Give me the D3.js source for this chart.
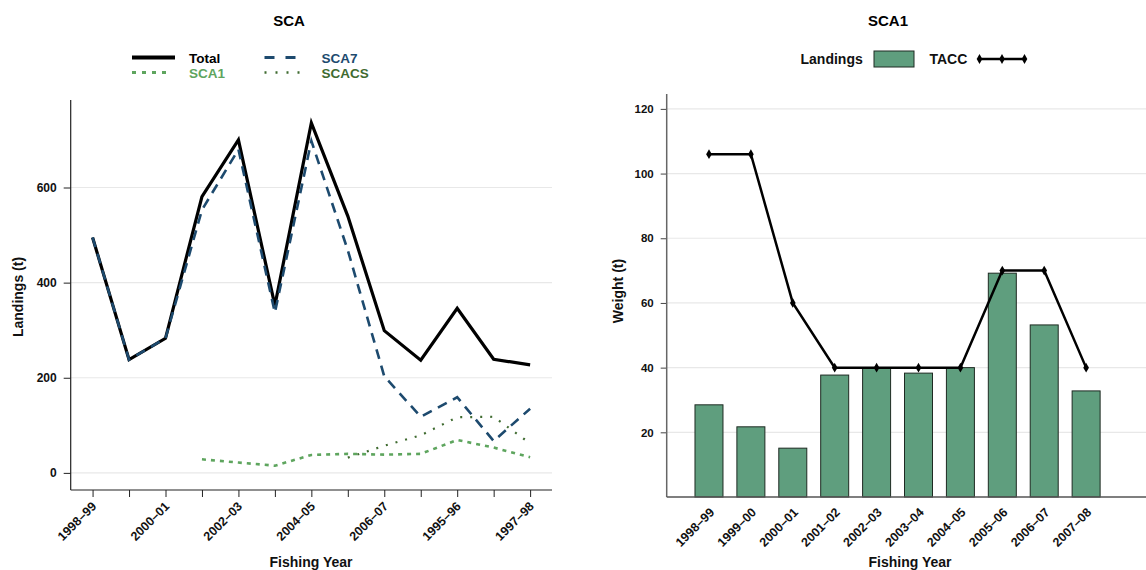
<!DOCTYPE html>
<html><head><meta charset="utf-8">
<script src="https://cdn.jsdelivr.net/npm/d3@7"></script>
<style>
html,body{margin:0;padding:0;background:#fff;}
svg text{font-family:"Liberation Sans",Arial,sans-serif;font-weight:bold;}
</style></head>
<body><svg id="c" width="1146" height="570"></svg>
<script>
// ---- Left panel data (SCA) ----
const yearsL = ["1998–99","1999–00","2000–01","2001–02","2002–03","2003–04","2004–05","2005–06","2006–07","2007–08","1995–96","1996–97","1997–98"];
const totalL = [495, 238, 283, 581, 700, 352, 736, 540, 299, 237, 346, 239, 227];
const sca7L  = [495, 238, 283, 553, 680, 337, 698, 468, 203, 118, 159, 67, 135];
const sca1L  = [null, null, null, 28.5, 21.7, 15.1, 37.7, 40.0, 38.3, 40.0, 69.2, 53.2, 32.8];
const scacsL = [null, null, null, null, null, null, null, 32, 57, 79, 117, 118, 62];
const yTicksL = [0, 200, 400, 600];

// ---- Right panel data (SCA1) ----
const yearsR = ["1998–99","1999–00","2000–01","2001–02","2002–03","2003–04","2004–05","2005–06","2006–07","2007–08"];
const landingsR = [28.5, 21.7, 15.1, 37.7, 40.0, 38.3, 40.0, 69.2, 53.2, 32.8];
const taccR = [106, 106, 60, 40, 40, 40, 40, 70, 70, 40];
const yTicksR = [20, 40, 60, 80, 100, 120];

const svg = d3.select("#c");
const GRID = "#e8e8e8";

// ================= LEFT PANEL =================
{
  const x0 = 70.7, x1 = 552, yTop = 100, yBot = 490;
  const x = d3.scalePoint().domain(yearsL).range([x0, x1]).padding(0.6);
  const y = d3.scaleLinear().domain([-36, 784]).range([yBot, yTop]);
  const g = svg.append("g");

  g.selectAll(".gl").data(yTicksL).join("line")
    .attr("x1", x0).attr("x2", x1).attr("y1", d => y(d)).attr("y2", d => y(d))
    .attr("stroke", GRID).attr("stroke-width", 1.2);

  const ya = d3.axisLeft(y).tickValues(yTicksL).tickSize(7).tickPadding(7);
  const yg = g.append("g").attr("transform", `translate(${x0},0)`).call(ya);
  yg.select(".domain").remove();
  yg.selectAll("line").attr("stroke", "#222");
  yg.selectAll("text").attr("font-size", 12).attr("fill", "#111")
    .style("font-family", "Liberation Sans, Arial").style("font-weight", "bold");
  g.append("line").attr("x1", x0).attr("x2", x0).attr("y1", yTop).attr("y2", yBot).attr("stroke", "#222").attr("stroke-width", 1.2);

  const xa = d3.axisBottom(x).tickSize(7).tickFormat((d, i) => i % 2 === 0 ? d : "");
  const xg = g.append("g").attr("transform", `translate(0,${yBot})`).call(xa);
  xg.select(".domain").remove();
  xg.selectAll("line").attr("stroke", "#222");
  xg.selectAll("text").attr("font-size", 12.5).attr("fill", "#111")
    .style("font-family", "Liberation Sans, Arial").style("font-weight", "bold")
    .attr("text-anchor", "end").attr("dy", "0.35em")
    .attr("transform", "translate(1,14) rotate(-45)").attr("y", 0).attr("x", 0);
  g.append("line").attr("x1", x0).attr("x2", x1).attr("y1", yBot).attr("y2", yBot).attr("stroke", "#222").attr("stroke-width", 1.2);

  const line = arr => d3.line().defined(d => d != null).x((d, i) => x(yearsL[i])).y(d => y(d))(arr);

  g.append("path").attr("d", line(scacsL)).attr("fill", "none").attr("stroke", "#3f6b30").attr("stroke-width", 2.2).attr("stroke-dasharray", "2,8");
  g.append("path").attr("d", line(sca1L)).attr("fill", "none").attr("stroke", "#5ea55e").attr("stroke-width", 2.6).attr("stroke-dasharray", "4,5");
  g.append("path").attr("d", line(totalL)).attr("fill", "none").attr("stroke", "#000").attr("stroke-width", 3.2);
  g.append("path").attr("d", line(sca7L)).attr("fill", "none").attr("stroke", "#1d4a6e").attr("stroke-width", 2.6).attr("stroke-dasharray", "10,7");

  svg.append("text").attr("x", 289).attr("y", 26).attr("text-anchor", "middle").attr("font-size", 15).attr("fill", "#000").text("SCA");
  svg.append("text").attr("x", 311).attr("y", 567).attr("text-anchor", "middle").attr("font-size", 14).attr("fill", "#111").text("Fishing Year");
  svg.append("text").attr("transform", "translate(23,297) rotate(-90)").attr("text-anchor", "middle").attr("font-size", 14).attr("fill", "#111").text("Landings (t)");

  const leg = [
    {name: "Total", col: "#000", w: 4, dash: null, lx: 132, tx: 189, y: 57.5},
    {name: "SCA7", col: "#1d4a6e", w: 3, dash: "10,11", lx: 264.5, tx: 321.5, y: 57.5},
    {name: "SCA1", col: "#5ea55e", w: 3, dash: "4,6", lx: 132, tx: 189, y: 72.5},
    {name: "SCACS", col: "#3f6b30", w: 2.5, dash: "2,9", lx: 264.5, tx: 321.5, y: 72.5}
  ];
  leg.forEach(l => {
    const ln = svg.append("line").attr("x1", l.lx).attr("x2", l.lx + (l.name === "Total" ? 43 : 38)).attr("y1", l.y).attr("y2", l.y)
      .attr("stroke", l.col).attr("stroke-width", l.w);
    if (l.dash) ln.attr("stroke-dasharray", l.dash);
    svg.append("text").attr("x", l.tx).attr("y", l.y + 5).attr("font-size", 13.5).attr("fill", l.col).text(l.name);
  });
}

// ================= RIGHT PANEL =================
{
  const x0 = 666.7, xEnd = 1146, yTop = 94, yBot = 497;
  const x = d3.scaleBand().domain(yearsR).range([x0, 1128.4]).paddingInner(0.332).paddingOuter(0.675);
  const y = d3.scaleLinear().domain([0, 124.6]).range([yBot, yTop]);
  const g = svg.append("g");

  g.selectAll(".gl").data(yTicksR).join("line")
    .attr("x1", x0).attr("x2", xEnd).attr("y1", d => y(d)).attr("y2", d => y(d))
    .attr("stroke", GRID).attr("stroke-width", 1.2);

  const ya = d3.axisLeft(y).tickValues(yTicksR).tickSize(6).tickPadding(7);
  const yg = g.append("g").attr("transform", `translate(${x0},0)`).call(ya);
  yg.select(".domain").remove();
  yg.selectAll("line").attr("stroke", "#444");
  yg.selectAll("text").attr("font-size", 11.5).attr("fill", "#111")
    .style("font-family", "Liberation Sans, Arial").style("font-weight", "bold");

  g.selectAll(".bar").data(landingsR).join("rect")
    .attr("x", (d, i) => x(yearsR[i])).attr("width", x.bandwidth())
    .attr("y", d => y(d)).attr("height", d => yBot - y(d))
    .attr("fill", "#5f9e7e").attr("stroke", "#1e2a22").attr("stroke-width", 1);

  g.append("line").attr("x1", x0).attr("x2", x0).attr("y1", yTop).attr("y2", yBot).attr("stroke", "#666").attr("stroke-width", 1.5);

  const xa = d3.axisBottom(x).tickSize(0).tickPadding(0);
  const xg = g.append("g").attr("transform", `translate(0,${yBot})`).call(xa);
  xg.select(".domain").remove();
  xg.selectAll("text").attr("font-size", 12.5).attr("fill", "#111")
    .style("font-family", "Liberation Sans, Arial").style("font-weight", "bold")
    .attr("text-anchor", "end").attr("dy", "0.35em")
    .attr("transform", "translate(3,13) rotate(-45)").attr("y", 0).attr("x", 0);
  g.append("line").attr("x1", x0).attr("x2", xEnd).attr("y1", yBot).attr("y2", yBot).attr("stroke", "#555").attr("stroke-width", 1.5);

  const cx = d => x(d) + x.bandwidth() / 2;
  g.append("path").attr("d", d3.line().x((d, i) => cx(yearsR[i])).y(d => y(d))(taccR))
    .attr("fill", "none").attr("stroke", "#000").attr("stroke-width", 2.5);
  g.selectAll(".mk").data(taccR).join("path")
    .attr("d", d3.symbol(d3.symbolDiamond, 28))
    .attr("transform", (d, i) => `translate(${cx(yearsR[i])},${y(d)})`).attr("fill", "#000");

  svg.append("text").attr("x", 888).attr("y", 26).attr("text-anchor", "middle").attr("font-size", 15).attr("fill", "#000").text("SCA1");
  svg.append("text").attr("x", 910).attr("y", 567).attr("text-anchor", "middle").attr("font-size", 14).attr("fill", "#111").text("Fishing Year");
  svg.append("text").attr("transform", "translate(623,291) rotate(-90)").attr("text-anchor", "middle").attr("font-size", 14).attr("fill", "#111").text("Weight (t)");

  svg.append("text").attr("x", 800.5).attr("y", 64).attr("font-size", 14).attr("fill", "#111").text("Landings");
  svg.append("rect").attr("x", 874).attr("y", 51).attr("width", 40).attr("height", 16).attr("fill", "#5f9e7e").attr("stroke", "#1e2a22").attr("stroke-width", 1);
  svg.append("text").attr("x", 929.5).attr("y", 64).attr("font-size", 14).attr("fill", "#111").text("TACC");
  svg.append("line").attr("x1", 979.5).attr("x2", 1024.5).attr("y1", 59).attr("y2", 59).attr("stroke", "#000").attr("stroke-width", 2.5);
  [979.5, 1002, 1024.5].forEach(px => svg.append("path").attr("d", d3.symbol(d3.symbolDiamond, 28)()).attr("transform", `translate(${px},59)`).attr("fill", "#000"));
}
</script></body></html>
